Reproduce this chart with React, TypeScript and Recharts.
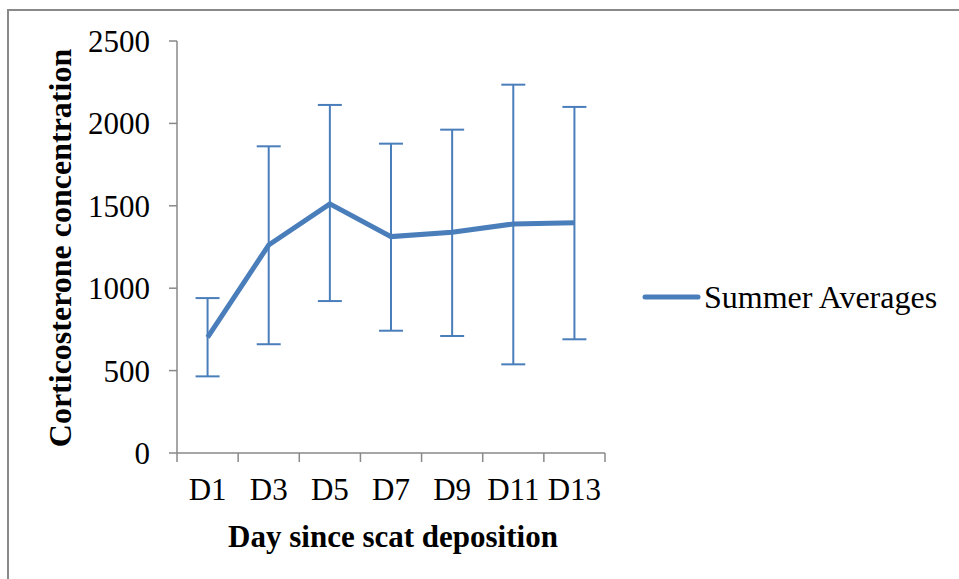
import { ErrorBar, Legend, Line, LineChart, XAxis, YAxis } from "recharts";

const days = ["D1", "D3", "D5", "D7", "D9", "D11", "D13"];
const summerAverages = [702, 1262, 1512, 1313, 1339, 1390, 1397];
const upperBounds = [940, 1861, 2112, 1877, 1962, 2235, 2100];
const lowerBounds = [465, 660, 922, 742, 710, 538, 690];
const yTicks = [0, 500, 1000, 1500, 2000, 2500];

const data = days.map((day, i) => ({
  day,
  avg: summerAverages[i],
  err: [summerAverages[i] - lowerBounds[i], upperBounds[i] - summerAverages[i]],
}));

const FONT = "'Liberation Serif', 'Times New Roman', serif";
const BLUE = "#4a7ebb";
const AXIS = "#898989";
const PLOT_W = 428;
const HALF_BAND = PLOT_W / days.length / 2;
const TICK_MARGIN = 25;

// category label in the middle of the band, tick marks on the band edges (Excel style)
const DayTick = (props: any) => {
  const { x, y, payload, index } = props;
  const axisY = y - TICK_MARGIN;
  const last = index === days.length - 1;
  return (
    <g>
      <line x1={x - HALF_BAND} y1={axisY} x2={x - HALF_BAND} y2={axisY + 9} stroke={AXIS} strokeWidth={1.5} />
      {last && <line x1={x + HALF_BAND} y1={axisY} x2={x + HALF_BAND} y2={axisY + 9} stroke={AXIS} strokeWidth={1.5} />}
      <text x={x} y={y} dy="0.71em" textAnchor="middle" fontFamily={FONT} fontSize={31} fill="#000">
        {payload.value}
      </text>
    </g>
  );
};

const renderLegend = () => (
  <svg width={300} height={40}>
    <line x1={3} y1={17} x2={56} y2={17} stroke={BLUE} strokeWidth={5} strokeLinecap="round" />
    <text x={62} y={28} fontFamily={FONT} fontSize={32} fill="#000">
      Summer Averages
    </text>
  </svg>
);

const App = () => (
  <div style={{ position: "absolute", left: 0, top: 0, width: 959, height: 579, background: "#fff" }}>
    <div
      style={{
        position: "absolute",
        left: 7,
        top: 9,
        right: 0,
        bottom: 0,
        borderLeft: `2px solid ${AXIS}`,
        borderTop: `2px solid ${AXIS}`,
      }}
    />
    <LineChart
      width={959}
      height={579}
      data={data}
      margin={{ top: 41, right: 354, bottom: 46, left: 0 }}
      style={{ position: "absolute", left: 0, top: 0 }}
    >
      <XAxis
        dataKey="day"
        height={80}
        padding={{ left: HALF_BAND, right: HALF_BAND }}
        tickLine={false}
        tickSize={0}
        tickMargin={TICK_MARGIN}
        axisLine={{ stroke: AXIS, strokeWidth: 1.5 }}
        tick={<DayTick />}
        interval={0}
      />
      <YAxis
        width={177}
        domain={[0, 2500]}
        ticks={yTicks}
        tickSize={8}
        tickMargin={19}
        axisLine={{ stroke: AXIS, strokeWidth: 1.5 }}
        tickLine={{ stroke: AXIS, strokeWidth: 1.5 }}
        tick={{ fill: "#000", fontSize: 31, fontFamily: FONT }}
        interval={0}
      />
      <Legend
        layout="horizontal"
        verticalAlign="middle"
        align="center"
        content={renderLegend}
        wrapperStyle={{ left: 642, top: 280, width: 300, height: 40 }}
      />
      <Line
        dataKey="avg"
        name="Summer Averages"
        stroke={BLUE}
        strokeWidth={5}
        dot={false}
        isAnimationActive={false}
      >
        <ErrorBar dataKey="err" width={12} stroke={BLUE} strokeWidth={2} direction="y" />
      </Line>
    </LineChart>
    <svg width={959} height={579} style={{ position: "absolute", left: 0, top: 0, pointerEvents: "none" }}>
      <text
        x={71}
        y={248}
        transform="rotate(-90, 71, 248)"
        textAnchor="middle"
        fontFamily={FONT}
        fontWeight="bold"
        fontSize={32}
        fill="#000"
      >
        Corticosterone concentration
      </text>
      <text x={393} y={547} textAnchor="middle" fontFamily={FONT} fontWeight="bold" fontSize={31} fill="#000">
        Day since scat deposition
      </text>
    </svg>
  </div>
);

export default App;
